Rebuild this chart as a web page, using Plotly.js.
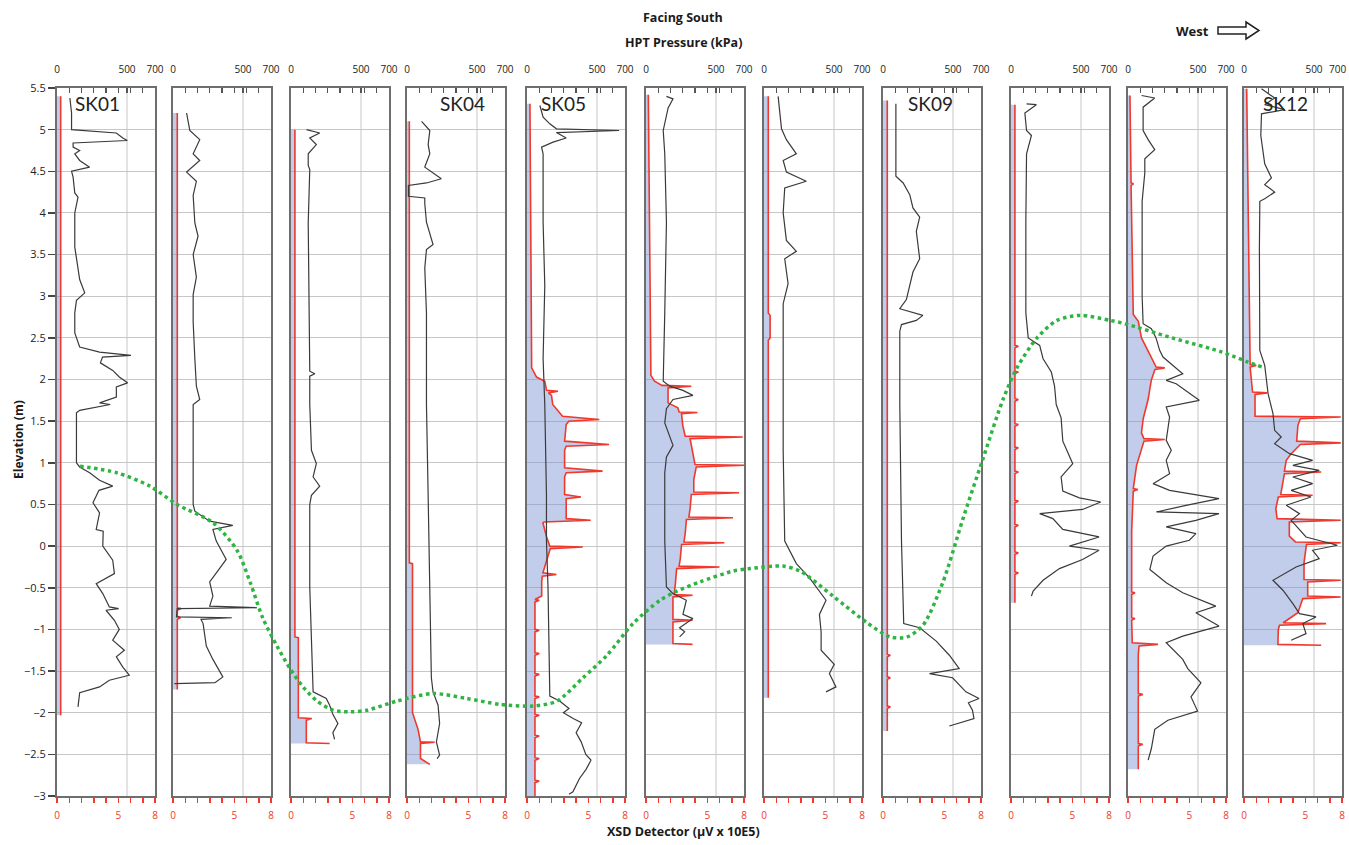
<!DOCTYPE html>
<html><head><meta charset="utf-8">
<script src="https://cdn.plot.ly/plotly-3.0.1.min.js"></script>
<style>html,body{margin:0;padding:0;background:#fff}#chart{width:1349px;height:845px}</style>
</head><body><div id="chart"></div>
<script>
// ---------- DATA ----------
const panelLabels = ['SK01','','','SK04','SK05','','','SK09','','','SK12'];

// HPT pressure (kPa) vs elevation (m)
const sk01HptElev = [5.38,5.2,5.0,4.96,4.9,4.87,4.84,4.79,4.75,4.71,4.63,4.55,4.5,4.43,4.24,4.19,4.0,3.59,3.2,3.04,2.95,2.8,2.56,2.39,2.33,2.29,2.27,2.2,2.11,2.03,1.96,1.91,1.79,1.72,1.7,1.63,1.6,1.39,1.0,0.95,0.88,0.79,0.72,0.67,0.52,0.4,0.2,0.18,0.0,-0.17,-0.33,-0.45,-0.57,-0.73,-0.75,-0.77,-0.89,-1.0,-1.13,-1.25,-1.33,-1.45,-1.55,-1.61,-1.69,-1.76,-1.93];
const sk01Hpt     = [92,104,104,424,470,502,115,115,162,127,162,233,104,115,127,150,127,127,162,198,139,127,127,162,304,528,325,310,398,445,504,424,424,304,380,162,139,139,139,162,233,304,398,300,257,304,280,330,327,398,410,280,327,374,440,350,410,445,398,481,424,469,516,374,304,162,150];
const sk02HptElev = [5.2,4.99,4.88,4.71,4.63,4.49,4.38,4.21,3.88,3.72,3.5,3.23,3.02,2.69,2.25,1.92,1.76,1.7,1.37,0.5,0.42,0.3,0.25,0.2,0.06,-0.16,-0.27,-0.43,-0.6,-0.72,-0.74,-0.75,-0.85,-0.86,-0.88,-0.93,-1.2,-1.36,-1.57,-1.64,-1.65];
const sk02Hpt     = [97,120,191,144,191,97,167,144,156,179,144,167,144,144,156,167,191,144,144,144,156,262,427,285,309,380,332,262,285,262,600,30,25,420,200,215,238,285,356,300,10];
const sk03HptElev = [5.0,4.96,4.9,4.82,4.71,4.57,4.52,3.88,2.1,2.07,2.04,1.7,1.15,0.99,0.83,0.72,0.61,0.5,-0.49,-1.75,-1.83,-1.91,-2.02,-2.13,-2.24,-2.32];
const sk03Hpt     = [111,205,134,181,123,123,134,123,134,170,134,134,146,181,158,205,146,134,134,158,252,276,299,335,299,311];
const sk04HptElev = [5.1,4.99,4.82,4.71,4.55,4.41,4.36,4.33,4.31,4.2,4.18,4.11,3.89,3.62,3.56,3.34,2.8,1.7,0.61,-0.49,-1.58,-1.75,-1.91,-2.13,-2.35,-2.51,-2.55];
const sk04Hpt     = [104,163,151,163,127,245,139,10,10,10,127,127,139,186,139,127,139,139,151,163,174,186,222,233,210,233,215];
const sk05HptElev = [5.29,5.15,5.07,5.01,4.99,4.965,4.9,4.85,4.79,4.71,4.44,3.89,3.13,2.25,1.7,0.61,0.06,-0.49,-1.8,-1.86,-1.95,-2.0,-2.07,-2.12,-2.24,-2.35,-2.5,-2.57,-2.68,-2.79,-2.95,-2.98];
const sk05Hpt     = [92,115,163,210,658,210,280,186,104,115,115,115,127,115,127,139,139,150,163,233,300,260,330,390,351,387,420,457,422,375,328,300];
const sk06HptElev = [5.4,5.37,5.26,4.99,4.71,3.89,2.8,1.98,1.92,1.87,1.81,1.76,1.65,1.48,1.21,1.07,0.88,0.06,-0.49,-0.57,-0.65,-0.82,-0.87,-0.98,-1.03,-1.09];
const sk06Hpt     = [146,193,158,123,134,146,134,123,170,264,335,193,146,134,193,146,134,134,146,193,288,264,335,240,276,240];
const sk07HptElev = [5.4,5.01,4.88,4.71,4.63,4.49,4.38,4.3,4.0,3.67,3.54,3.45,3.15,2.91,2.25,1.15,0.06,-0.21,-0.38,-0.49,-0.65,-0.82,-1.03,-1.25,-1.42,-1.53,-1.69,-1.75];
const sk07Hpt     = [101,125,160,231,137,160,302,148,137,160,231,148,172,137,137,137,148,231,325,372,443,396,408,408,502,467,514,443];
const sk09HptElev = [5.31,4.44,4.36,4.22,4.06,3.95,3.78,3.45,3.29,3.13,2.96,2.85,2.77,2.71,2.66,2.58,1.7,0.06,-0.93,-0.98,-1.14,-1.31,-1.47,-1.53,-1.58,-1.75,-1.83,-1.88,-1.97,-2.07,-2.16];
const sk09Hpt     = [92,92,144,191,214,262,238,262,214,191,167,120,285,238,132,120,120,132,148,262,380,474,544,332,497,592,686,610,639,650,474];
const sk10HptElev = [5.31,5.3,5.2,4.99,4.93,4.71,3.89,2.8,2.5,2.41,2.25,2.09,1.92,1.7,1.54,1.26,0.99,0.83,0.66,0.58,0.53,0.44,0.39,0.33,0.2,0.11,0.0,-0.05,-0.16,-0.27,-0.41,-0.54,-0.6];
const sk10Hpt     = [111,181,99,111,146,111,106,106,123,205,229,288,311,323,358,370,441,358,370,488,641,511,205,299,370,629,417,629,511,346,229,158,146];
const sk11HptElev = [5.41,5.38,5.27,4.99,4.88,4.76,4.65,4.48,4.14,3.0,2.67,2.61,2.5,2.35,2.27,2.07,1.99,1.95,1.75,1.67,1.55,1.27,1.15,1.03,0.87,0.75,0.67,0.57,0.49,0.41,0.39,0.31,0.23,0.15,0.07,0.0,-0.12,-0.28,-0.44,-0.56,-0.72,-0.8,-0.96,-1.08,-1.16,-1.36,-1.47,-1.64,-1.81,-1.98,-2.09,-2.2,-2.43,-2.57];
const sk11Hpt     = [97,191,108,108,144,191,120,120,101,101,108,167,200,226,250,391,273,344,509,273,297,273,309,273,297,179,297,650,415,203,650,485,273,485,438,273,179,156,273,391,627,485,650,391,273,391,427,521,450,497,285,191,167,144];
const sk12HptElev = [5.49,5.38,5.3,5.24,5.19,5.1,4.93,4.59,4.42,4.34,4.25,4.17,4.14,3.57,2.44,2.35,2.17,2.03,1.83,1.59,1.39,1.31,1.23,1.11,1.03,0.97,0.91,0.83,0.75,0.67,0.59,0.49,0.39,0.31,0.11,0.01,-0.05,-0.15,-0.25,-0.41,-0.53,-0.69,-0.81,-0.85,-0.93,-1.05,-1.13];
const sk12Hpt     = [125,219,148,290,125,125,120,148,196,148,219,148,113,110,110,113,148,160,172,207,219,266,219,325,490,349,537,349,490,337,478,302,396,337,443,667,490,537,372,207,278,349,396,514,420,443,337];

// XSD detector (µV x 10E5) vs elevation (m)
const sk01XsdElev = [5.4,-2.03];
const sk01Xsd     = [0.3,0.3];
const sk02XsdElev = [5.2,-0.74,-0.75,-0.77,-0.84,-0.86,-0.88,-1.72];
const sk02Xsd     = [0.35,0.35,0.65,0.35,0.35,0.6,0.35,0.35];
const sk03XsdElev = [5.0,-1.09,-1.1,-2.06,-2.07,-2.09,-2.36,-2.37];
const sk03Xsd     = [0.32,0.32,0.6,0.6,1.7,1.25,1.25,3.15];
const sk04XsdElev = [5.1,-0.2,-0.21,-2.0,-2.2,-2.35,-2.355,-2.37,-2.55,-2.62];
const sk04Xsd     = [0.19,0.19,0.45,0.45,0.9,1.1,2.26,1.1,1.1,1.86];
const sk05XsdElev = [5.31,2.14,2.03,1.98,1.87,1.86,1.84,1.81,1.7,1.56,1.52,1.50,1.46,1.26,1.22,1.20,1.15,0.94,0.90,0.88,0.83,0.62,0.59,0.57,0.53,0.33,0.31,0.29,0.28,0.11,0.0,-0.01,-0.03,-0.05,-0.32,-0.34,-0.36,-0.43,-0.6,-0.64,-0.65,-0.67,-1.0,-1.01,-1.03,-1.28,-1.29,-1.31,-1.53,-1.54,-1.56,-1.8,-1.81,-1.83,-2.02,-2.03,-2.05,-2.27,-2.28,-2.30,-2.54,-2.55,-2.57,-2.81,-2.82,-2.84,-3.0];
const sk05Xsd     = [0.24,0.38,0.78,1.45,1.6,2.53,1.75,2.0,2.1,2.9,5.9,3.4,3.2,3.07,6.7,3.2,3.07,3.07,6.17,3.2,3.07,3.07,4.4,3.2,3.2,3.2,5.2,1.4,1.3,1.6,1.86,4.55,1.9,1.86,1.3,2.4,1.25,1.2,1.2,0.65,1.0,0.65,0.65,1.0,0.65,0.65,1.0,0.65,0.65,1.0,0.65,0.65,1.0,0.65,0.65,1.0,0.65,0.65,1.0,0.65,0.65,1.0,0.65,0.65,1.0,0.65,0.65];
const sk06XsdElev = [5.42,2.05,1.98,1.93,1.92,1.90,1.72,1.66,1.61,1.605,1.59,1.45,1.32,1.31,1.29,1.15,0.98,0.97,0.95,0.80,0.65,0.64,0.62,0.45,0.35,0.34,0.32,0.15,0.05,0.04,0.02,-0.15,-0.24,-0.25,-0.27,-0.45,-0.58,-0.59,-0.61,-0.75,-0.88,-0.89,-0.91,-1.05,-1.17,-1.18];
const sk06Xsd     = [0.19,0.4,0.7,1.3,3.7,1.8,1.8,2.6,2.7,4.2,2.9,3.0,3.2,7.9,3.6,3.8,4.0,8.0,4.1,3.9,3.9,7.6,3.7,3.6,3.5,7.1,3.3,3.2,3.1,6.4,2.9,2.8,2.7,6.0,2.5,2.4,2.3,3.8,2.2,2.2,2.2,3.8,2.2,2.2,2.2,3.8];
const sk07XsdElev = [5.4,2.8,2.77,2.5,2.47,-1.82];
const sk07Xsd     = [0.35,0.35,0.5,0.5,0.35,0.35];
const sk09XsdElev = [5.35,-1.3,-1.31,-1.33,-1.57,-1.58,-1.6,-1.92,-1.93,-1.95,-2.22];
const sk09Xsd     = [0.35,0.35,0.6,0.35,0.35,0.6,0.35,0.35,0.6,0.35,0.35];
const sk10XsdElev = [5.3,2.41,2.40,2.38,2.10,2.09,2.07,1.77,1.76,1.74,1.47,1.46,1.44,1.19,1.18,1.16,0.90,0.89,0.87,0.55,0.54,0.52,0.26,0.25,0.23,-0.07,-0.08,-0.10,-0.31,-0.32,-0.34,-0.68];
const sk10Xsd     = [0.32,0.32,0.6,0.32,0.32,0.6,0.32,0.32,0.6,0.32,0.32,0.6,0.32,0.32,0.6,0.32,0.32,0.6,0.32,0.32,0.6,0.32,0.32,0.6,0.32,0.32,0.6,0.32,0.32,0.6,0.32,0.32];
const sk11XsdElev = [5.41,4.36,4.35,4.33,2.78,2.7,2.5,2.27,2.15,2.14,2.12,1.99,1.76,1.53,1.36,1.29,1.28,1.26,0.97,0.69,0.68,0.66,0.18,-0.55,-0.56,-0.58,-0.86,-0.87,-0.89,-1.16,-1.18,-1.2,-1.3,-1.77,-1.78,-1.8,-2.37,-2.38,-2.4,-2.68];
const sk11Xsd     = [0.16,0.25,0.45,0.25,0.43,0.84,1.1,1.9,2.3,3.0,2.2,1.9,1.64,1.24,1.1,1.3,3.0,1.3,0.7,0.43,0.8,0.43,0.3,0.3,0.57,0.3,0.3,0.57,0.3,0.35,2.45,0.9,0.84,0.84,1.2,0.84,0.84,1.2,0.84,0.84];
const sk12XsdElev = [5.49,3.57,2.44,2.18,2.17,2.15,1.85,1.84,1.82,1.56,1.55,1.53,1.45,1.26,1.24,1.22,1.10,1.03,0.90,0.89,0.87,0.70,0.62,0.61,0.59,0.45,0.33,0.31,0.29,0.12,0.05,0.04,0.02,-0.2,-0.40,-0.41,-0.43,-0.60,-0.61,-0.63,-0.80,-0.92,-0.93,-0.95,-1.0,-1.18,-1.19];
const sk12Xsd     = [0.22,0.35,0.45,0.5,1.0,0.5,0.7,1.9,0.9,0.9,7.9,4.6,4.4,4.3,7.9,4.6,3.8,3.45,3.3,6.3,3.3,3.1,3.0,5.6,2.8,2.6,2.7,7.9,3.7,3.7,4.2,7.9,5.1,4.9,4.9,7.9,5.2,5.2,7.9,4.8,4.4,3.2,6.7,2.9,2.8,2.77,6.3];

// Interpreted green boundary: position along section (page units) and elevation (m)
const greenPos  = [80,117,150,177,213,237,250,263,277,290,303,317,333,350,367,397,433,467,500,533,557,583,607,633,660,677,700,733,750,783,800,833,867,890,907,923,943,963,983,1003,1017,1037,1057,1080,1110,1125,1172,1222,1248,1262];
const greenElev = [0.96,0.88,0.72,0.5,0.28,-0.05,-0.43,-0.87,-1.2,-1.47,-1.69,-1.86,-1.97,-1.99,-1.97,-1.86,-1.77,-1.83,-1.9,-1.92,-1.86,-1.58,-1.31,-0.93,-0.65,-0.54,-0.43,-0.3,-0.27,-0.24,-0.3,-0.6,-0.92,-1.09,-1.09,-0.95,-0.43,0.33,1.05,1.76,2.14,2.5,2.71,2.77,2.71,2.67,2.5,2.33,2.21,2.15];

const hptTicks = [0,87.5,175,262.5,350,437.5,500,525,612.5,700];
const hptTickText = ['0','','','','','','500','','','700'];
const hptTickTextLast = ['0','','','','','','500','','',''];
const xsdTicks = [0,1,2,3,4,5,6,7,8];
const xsdTickText = ['0','','','','','5','','','8'];

const hptElevs = [sk01HptElev,sk02HptElev,sk03HptElev,sk04HptElev,sk05HptElev,sk06HptElev,sk07HptElev,sk09HptElev,sk10HptElev,sk11HptElev,sk12HptElev];
const hptVals  = [sk01Hpt,sk02Hpt,sk03Hpt,sk04Hpt,sk05Hpt,sk06Hpt,sk07Hpt,sk09Hpt,sk10Hpt,sk11Hpt,sk12Hpt];
const xsdElevs = [sk01XsdElev,sk02XsdElev,sk03XsdElev,sk04XsdElev,sk05XsdElev,sk06XsdElev,sk07XsdElev,sk09XsdElev,sk10XsdElev,sk11XsdElev,sk12XsdElev];
const xsdVals  = [sk01Xsd,sk02Xsd,sk03Xsd,sk04Xsd,sk05Xsd,sk06Xsd,sk07Xsd,sk09Xsd,sk10Xsd,sk11Xsd,sk12Xsd];

// ---------- LAYOUT ----------
const W = 1349, H = 845, ML = 57, MR = 7, MT = 88, MB = 49;
const PLOTW = W - ML - MR, PLOTH = H - MT - MB;
const panelLeftPx = [57,173,291,407,527,646,764,883,1011,1128,1244];
const PW = 98;
const labelFrac = [0.41,0,0,0.57,0.37,0,0,0.48,0,0,0.42];
const pxX = v => (v - ML) / PLOTW;
const pxY = v => (H - MB - v) / PLOTH;

const FRAME = '#6e6e6e', GRID = '#c6c6c6', RED = '#f0382c';
const FONT = 'Open Sans, Arial, sans-serif';

const traces = [];
const layout = {
  width: W, height: H,
  margin: {l: ML, r: MR, t: MT, b: MB, pad: 0},
  paper_bgcolor: '#ffffff', plot_bgcolor: 'rgba(0,0,0,0)',
  showlegend: false,
  font: {family: FONT, color: '#222'},
  annotations: [], shapes: []
};

for (let i = 0; i < 11; i++) {
  const xb = 2*i + 1, xt = 2*i + 2, yn = i + 1;
  const xbName = xb === 1 ? 'x' : 'x' + xb;
  const xtName = 'x' + xt;
  const yName = yn === 1 ? 'y' : 'y' + yn;
  const d0 = pxX(panelLeftPx[i]);
  const d1 = Math.min(1, pxX(panelLeftPx[i] + PW));
  const isLast = i === 10;

  layout['xaxis' + (xb === 1 ? '' : xb)] = {
    domain: [d0, d1], range: [0, 8], anchor: yName, side: 'bottom',
    tickmode: 'array', tickvals: xsdTicks, ticktext: xsdTickText,
    ticks: 'outside', ticklen: 5, tickwidth: 1.5, tickcolor: RED,
    tickfont: {size: 10, color: RED, family: FONT}, ticklabelstandoff: 4, ticklabeloverflow: 'allow',
    showline: true, linecolor: FRAME, linewidth: 2,
    showgrid: false, zeroline: false, fixedrange: true
  };
  layout['xaxis' + xt] = {
    overlaying: xbName, range: [0, 700], anchor: yName, side: 'top',
    tickmode: 'array', tickvals: hptTicks, ticktext: isLast ? hptTickTextLast : hptTickText,
    ticks: 'inside', ticklen: 5, tickwidth: 1.2, tickcolor: '#555',
    tickfont: {size: 10, color: '#222', family: FONT}, ticklabelstandoff: 9, ticklabeloverflow: 'allow',
    showline: true, linecolor: FRAME, linewidth: 2,
    showgrid: false, zeroline: false, fixedrange: true
  };
  layout['yaxis' + (yn === 1 ? '' : yn)] = {
    domain: [0, 1], range: [-3, 5.5], anchor: xbName,
    tickmode: 'linear', tick0: 0, dtick: 0.5,
    showgrid: true, gridcolor: GRID, gridwidth: 1,
    showline: true, mirror: true, linecolor: FRAME, linewidth: 2,
    zeroline: false, showticklabels: i === 0,
    ticks: i === 0 ? 'outside' : '', ticklen: 7, tickwidth: 1.5, tickcolor: '#444',
    tickfont: {size: 11, color: '#222', family: FONT}, fixedrange: true
  };

  // vertical grid line at 500 kPa on the panel's HPT axis
  layout.shapes.push({type: 'line', xref: xtName, yref: yName + ' domain', x0: 500, x1: 500, y0: 0, y1: 1,
    line: {color: GRID, width: 1}, layer: 'below'});

  traces.push({
    x: xsdVals[i], y: xsdElevs[i], xaxis: xbName, yaxis: yName,
    mode: 'lines', line: {color: RED, width: 1.6},
    fill: 'tozerox', fillcolor: 'rgba(120,145,210,0.45)', hoverinfo: 'skip'
  });
  traces.push({
    x: hptVals[i], y: hptElevs[i], xaxis: xtName, yaxis: yName,
    mode: 'lines', line: {color: '#3a3a3a', width: 1.2}, hoverinfo: 'skip'
  });

  if (panelLabels[i]) {
    layout.annotations.push({
      xref: xbName + ' domain', yref: yName, x: labelFrac[i], y: 5.31,
      text: panelLabels[i], showarrow: false, xanchor: 'center', yanchor: 'middle',
      font: {family: 'Lato, Open Sans, sans-serif', size: 19, color: '#222'}
    });
  }
  if (isLast) {
    // last "700" label, nudged left so it stays inside the page
    layout.annotations.push({
      xref: xtName, yref: 'paper', x: 700, y: pxY(69), text: '700', showarrow: false,
      xanchor: 'right', yanchor: 'middle', xshift: 6,
      font: {size: 10, color: '#222', family: FONT}
    });
  }
}

// overlay axes spanning the whole section for the green boundary
layout.xaxis23 = {domain: [0, 1], range: [ML, W - MR], anchor: 'y12', visible: false, fixedrange: true};
layout.yaxis12 = {domain: [0, 1], range: [-3, 5.5], anchor: 'x23', visible: false, fixedrange: true};
traces.push({
  x: greenPos, y: greenElev, xaxis: 'x23', yaxis: 'y12', mode: 'lines',
  line: {color: '#2fb443', width: 3.5, dash: 'dot', shape: 'spline', smoothing: 0.8}, hoverinfo: 'skip'
});

// titles
const titleAnn = (x, y, text, size, extra) => Object.assign({
  xref: 'paper', yref: 'paper', x: pxX(x), y: pxY(y), text: text, showarrow: false,
  xanchor: 'center', yanchor: 'middle', font: {size: size, color: '#1a1a1a', family: FONT}
}, extra || {});
layout.annotations.push(
  titleAnn(683, 18, '<b>Facing South</b>', 12.5),
  titleAnn(683, 43, '<b>HPT Pressure (kPa)</b>', 12.5),
  titleAnn(1192, 31, '<b>West</b>', 13),
  titleAnn(683, 831, '<b>XSD Detector (µV x 10E5)</b>', 12.5),
  titleAnn(18, 440, '<b>Elevation (m)</b>', 12, {textangle: -90})
);
// outlined arrow next to "West"
const ap = [[1218,27],[1246,27],[1246,22],[1259,30.5],[1246,39],[1246,34],[1218,34]];
layout.shapes.push({
  type: 'path', xref: 'paper', yref: 'paper',
  path: 'M ' + ap.map(p => pxX(p[0]) + ',' + pxY(p[1])).join(' L ') + ' Z',
  line: {color: '#222', width: 1.5}, fillcolor: 'rgba(255,255,255,1)'
});

Plotly.newPlot('chart', traces, layout, {displayModeBar: false, staticPlot: true});
</script>
</body></html>
